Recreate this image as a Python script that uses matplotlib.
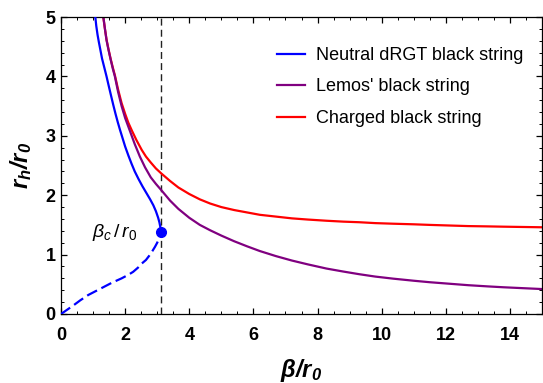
import matplotlib
matplotlib.use("Agg")
import matplotlib.pyplot as plt
from matplotlib.ticker import MultipleLocator

plt.rcParams['font.family'] = ['Liberation Sans', 'DejaVu Sans']
plt.rcParams['mathtext.fontset'] = 'custom'
plt.rcParams['mathtext.rm'] = 'Liberation Sans'
plt.rcParams['mathtext.it'] = 'Liberation Sans:italic'
plt.rcParams['mathtext.bf'] = 'Liberation Sans:bold:italic'

# ---- data ----
neutral_beta = [1.07, 1.10, 1.14, 1.18, 1.23, 1.28, 1.35, 1.42, 1.48, 1.55, 1.63,
                1.70, 1.77, 1.84, 1.92, 2.00, 2.10, 2.20, 2.30, 2.42, 2.54, 2.66,
                2.78, 2.88, 2.96, 3.03, 3.07, 3.10, 3.12]
neutral_rh = [5.00, 4.85, 4.70, 4.58, 4.44, 4.30, 4.15, 4.00, 3.86, 3.70, 3.52,
              3.37, 3.23, 3.10, 2.96, 2.82, 2.67, 2.53, 2.40, 2.27, 2.15, 2.04,
              1.93, 1.83, 1.73, 1.62, 1.54, 1.46, 1.38]

unstable_beta = [0.0, 0.20, 0.40, 0.60, 0.85, 1.10, 1.35, 1.60, 1.89, 2.10, 2.25,
                 2.40, 2.52, 2.65, 2.75, 2.85, 2.93, 3.00, 3.05, 3.09, 3.12]
unstable_rh = [0.0, 0.075, 0.15, 0.23, 0.32, 0.39, 0.46, 0.53, 0.60, 0.66, 0.71,
               0.78, 0.85, 0.91, 0.98, 1.06, 1.13, 1.20, 1.26, 1.32, 1.38]

lemos_beta = [1.32, 1.37, 1.42, 1.48, 1.55, 1.62, 1.68, 1.78, 1.89, 2.00, 2.15,
              2.30, 2.46, 2.62, 2.80, 2.96, 3.12, 3.40, 3.66, 4.00, 4.33, 4.65,
              5.00, 5.40, 5.80, 6.20, 6.70, 7.20, 7.70, 8.28, 8.80, 9.30, 9.80,
              10.36, 11.00, 11.50, 12.10, 12.70, 13.30, 13.80, 14.40, 15.00]
lemos_rh = [5.00, 4.80, 4.61, 4.45, 4.28, 4.12, 4.00, 3.74, 3.50, 3.30, 3.08,
            2.86, 2.65, 2.47, 2.30, 2.19, 2.09, 1.91, 1.77, 1.62, 1.50, 1.41,
            1.32, 1.225, 1.14, 1.06, 0.975, 0.90, 0.835, 0.765, 0.715, 0.67, 0.63,
            0.595, 0.56, 0.535, 0.51, 0.485, 0.465, 0.45, 0.435, 0.42]

charged_beta = [1.32, 1.37, 1.42, 1.48, 1.55, 1.62, 1.68, 1.78, 1.89, 2.00, 2.10,
                2.20, 2.35, 2.52, 2.65, 2.80, 2.96, 3.12, 3.40, 3.66, 4.00, 4.33,
                4.65, 5.00, 5.40, 5.80, 6.20, 6.70, 7.20, 7.70, 8.28, 8.80, 9.30,
                9.80, 10.36, 11.00, 11.50, 12.10, 12.70, 13.30, 13.80, 14.40, 15.00]
charged_rh = [5.00, 4.80, 4.62, 4.46, 4.29, 4.14, 4.02, 3.78, 3.55, 3.37, 3.22,
              3.10, 2.93, 2.76, 2.65, 2.55, 2.45, 2.37, 2.24, 2.13, 2.02, 1.93,
              1.86, 1.80, 1.75, 1.71, 1.67, 1.64, 1.61, 1.59, 1.57, 1.555, 1.545,
              1.53, 1.52, 1.51, 1.50, 1.49, 1.48, 1.475, 1.47, 1.465, 1.46]

beta_c = 3.12
rh_c = 1.38

x_ticks = [0, 2, 4, 6, 8, 10, 12, 14]
y_ticks = [0, 1, 2, 3, 4, 5]

labels = ["Neutral dRGT black string", "Lemos' black string", "Charged black string"]
colors = ["#0000ff", "#800080", "#ff0000"]

fig = plt.figure(figsize=(5.43, 3.83), dpi=100)
ax = fig.add_axes([61/543, 1-314/383, 481/543, 297/383])

ax.axvline(beta_c, color="#222222", lw=1.0, ls=(0, (5, 3)), zorder=1)
l1, = ax.plot(neutral_beta, neutral_rh, color=colors[0], lw=1.6, zorder=3, label=labels[0])
ax.plot(unstable_beta, unstable_rh, color=colors[0], lw=1.6, ls=(0, (5, 2.2)), zorder=3)
l3, = ax.plot(charged_beta, charged_rh, color=colors[2], lw=1.6, zorder=2, label=labels[2])
l2, = ax.plot(lemos_beta, lemos_rh, color=colors[1], lw=1.6, zorder=2.5, label=labels[1])
ax.plot([beta_c], [rh_c], 'o', color=colors[0], ms=7, zorder=4)

ax.text(1.68, 1.38, r'$\beta_c\,/\,r_0$', fontsize=14, ha='center', va='center')

ax.set_xlim(0, 15)
ax.set_ylim(0, 5)
ax.set_xticks(x_ticks, [str(t) for t in x_ticks], fontweight='bold')
ax.set_yticks(y_ticks, [str(t) for t in y_ticks], fontweight='bold')
ax.xaxis.set_minor_locator(MultipleLocator(0.5))
ax.yaxis.set_minor_locator(MultipleLocator(0.2))
ax.tick_params(which='both', direction='in', top=True, right=True, labelsize=13)
ax.tick_params(axis='x', which='major', pad=9)
ax.tick_params(axis='y', which='major', pad=4)
ax.tick_params(which='major', length=4.5, width=0.9)
ax.tick_params(which='minor', length=2.3, width=0.7)
for s in ax.spines.values():
    s.set_linewidth(0.9)

ax.set_xlabel(r'$\mathbf{\beta/r_0}$', fontsize=17, labelpad=10)
ax.set_ylabel(r'$\mathbf{r_h/r_0}$', fontsize=17, labelpad=8)

fig.legend(handles=[l1, l2, l3], labels=labels, loc='upper left',
           bbox_to_anchor=(277/543, 1-47/383), frameon=False, fontsize=13,
           borderpad=0, borderaxespad=0, handlelength=1.55, handletextpad=0.6,
           labelspacing=0.8)

fig.savefig("out.png", dpi=100)
